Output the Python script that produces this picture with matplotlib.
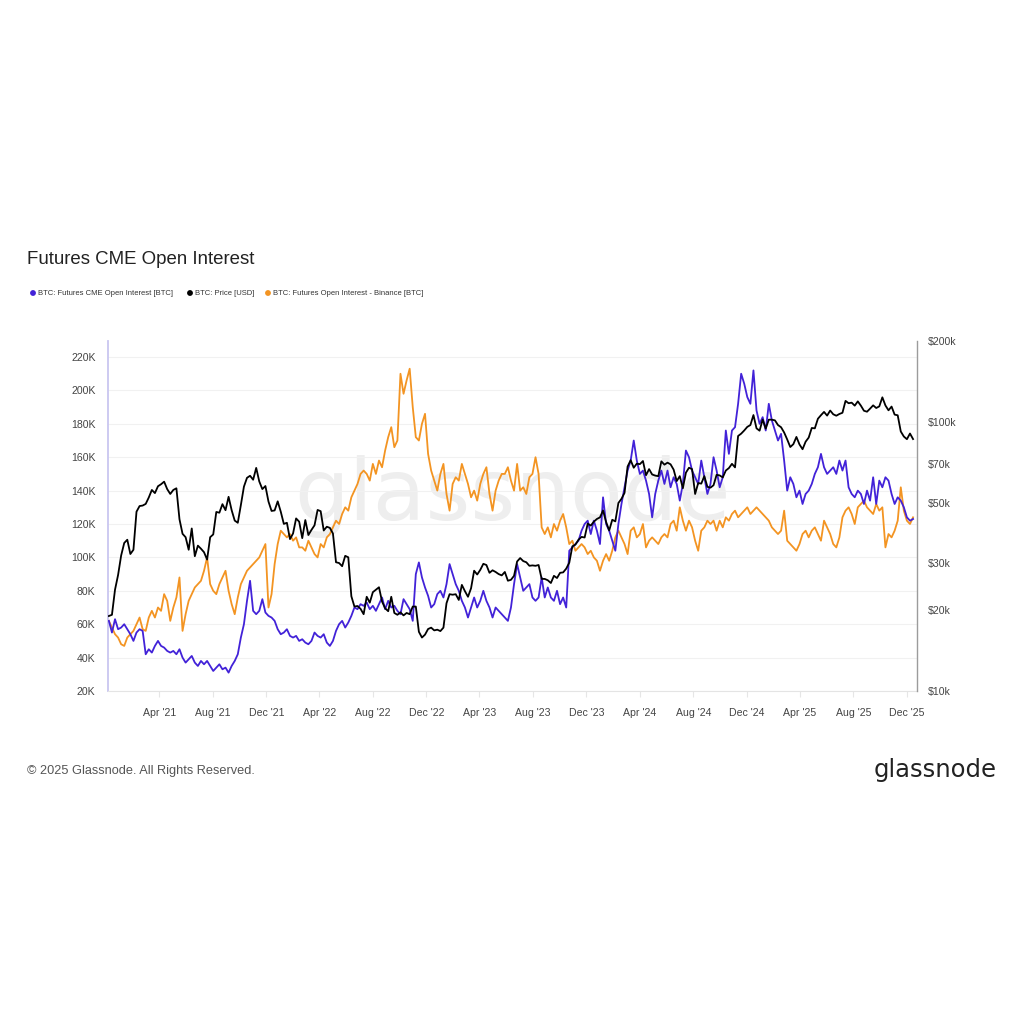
import matplotlib
matplotlib.use("Agg")
import matplotlib.pyplot as plt
import matplotlib.patches as mpatches
from matplotlib.ticker import FixedLocator, FuncFormatter, NullLocator
import pandas as pd
import numpy as np

# ---------------- data (weekly samples) ----------------
start_date = "2020-12-07"

cme_oi_k = [
    62, 55, 63, 57, 58, 60, 57, 54, 50, 55,
    57, 56, 42, 45, 43, 47, 50, 47, 46, 44,
    43, 44, 42, 45, 40, 37, 39, 41, 37, 35,
    38, 36, 38, 35, 32, 34, 36, 33, 34, 31,
    35, 38, 42, 52, 60, 74, 86, 68, 66, 68,
    75, 67, 65, 64, 62, 57, 54, 55, 57, 53,
    52, 53, 50, 51, 49, 48, 50, 55, 53, 52,
    54, 49, 47, 50, 56, 60, 62, 58, 61, 65,
    70, 69, 72, 71, 73, 69, 71, 68, 72, 76,
    69, 74, 70, 71, 68, 66, 75, 72, 69, 62,
    90, 97, 88, 82, 77, 70, 72, 78, 80, 76,
    84, 96, 90, 84, 80, 74, 70, 64, 70, 76,
    70, 74, 80, 74, 70, 64, 70, 68, 66, 64,
    62, 70, 84, 96, 88, 80, 82, 84, 76, 74,
    76, 88, 76, 82, 76, 74, 80, 72, 76, 70,
    104, 106, 108, 110, 116, 120, 122, 114, 122, 116,
    108, 136, 120, 116, 110, 104, 120, 132, 142, 152,
    158, 170, 158, 150, 152, 146, 138, 124, 138, 146,
    152, 144, 152, 142, 148, 144, 134, 144, 164, 160,
    152, 148, 144, 158, 148, 138, 144, 160, 152, 142,
    148, 176, 162, 176, 178, 192, 210, 204, 196, 192,
    212, 188, 180, 184, 176, 192, 182, 176, 170, 174,
    158, 140, 148, 144, 136, 140, 132, 138, 140, 144,
    150, 154, 162, 154, 150, 152, 154, 150, 158, 152,
    158, 142, 138, 136, 140, 138, 132, 140, 134, 148,
    132, 146, 142, 148, 146, 138, 132, 136, 134, 130,
    124, 122, 123,
]

binance_oi_k = [
    62, 58, 54, 52, 48, 47, 52, 54, 56, 60,
    64, 57, 56, 64, 68, 64, 70, 68, 78, 74,
    62, 70, 76, 88, 56, 66, 74, 78, 82, 84,
    86, 92, 100, 84, 80, 78, 84, 88, 92, 80,
    72, 66, 76, 84, 88, 92, 94, 96, 98, 100,
    104, 108, 70, 78, 96, 108, 116, 114, 112, 114,
    110, 112, 106, 106, 104, 110, 106, 102, 100, 108,
    106, 112, 114, 118, 122, 120, 126, 130, 128, 136,
    140, 144, 150, 152, 150, 146, 156, 150, 158, 154,
    164, 172, 178, 166, 170, 210, 198, 206, 213, 190,
    172, 170, 180, 186, 162, 152, 146, 140, 150, 156,
    138, 128, 144, 148, 146, 156, 150, 144, 136, 140,
    134, 144, 150, 154, 138, 128, 140, 146, 150, 150,
    154, 146, 140, 156, 140, 142, 138, 148, 150, 160,
    150, 118, 114, 118, 112, 120, 116, 122, 126, 118,
    108, 110, 104, 106, 108, 106, 102, 104, 100, 98,
    92, 98, 102, 98, 104, 112, 116, 112, 108, 102,
    116, 118, 112, 114, 120, 106, 110, 112, 110, 108,
    112, 114, 112, 120, 122, 116, 130, 122, 116, 122,
    118, 110, 104, 116, 118, 122, 120, 122, 116, 122,
    118, 124, 122, 126, 128, 124, 126, 128, 130, 126,
    128, 130, 128, 126, 124, 122, 118, 116, 114, 116,
    128, 110, 108, 106, 104, 108, 114, 116, 112, 116,
    118, 114, 110, 122, 118, 114, 108, 106, 112, 124,
    128, 130, 126, 120, 130, 132, 134, 130, 128, 126,
    132, 128, 130, 106, 114, 112, 116, 122, 142, 128,
    122, 120, 124,
]

price_usd_k = [
    19.0, 19.2, 23.8, 27.0, 31.9, 35.5, 36.5, 32.3, 33.5, 46.4,
    48.7, 48.9, 49.6, 52.4, 55.9, 54.4, 57.7, 58.7, 60.0, 56.3,
    54.0, 55.9, 56.7, 43.5, 38.4, 37.3, 33.5, 40.2, 31.7, 34.7,
    33.8, 32.8, 30.8, 37.3, 38.2, 46.3, 46.0, 49.5, 47.0, 52.7,
    47.0, 43.0, 42.2, 49.1, 57.5, 62.0, 63.1, 61.0, 67.5, 60.1,
    56.3, 57.8, 50.6, 46.7, 46.9, 50.7, 46.4, 41.8, 42.2, 36.7,
    38.5, 43.8, 42.6, 37.0, 43.2, 38.0, 39.7, 41.3, 47.1, 46.6,
    39.5, 40.8, 40.4, 38.5, 30.1, 29.9, 29.1, 31.8, 31.4, 22.5,
    20.6, 20.7, 20.2, 19.3, 22.4, 21.3, 23.3, 23.8, 24.3, 21.5,
    20.3, 19.8, 22.4, 19.5, 19.2, 19.6, 19.1, 19.5, 19.3, 20.6,
    20.6, 16.6, 15.8, 16.2, 17.0, 17.2, 16.8, 16.9, 16.7, 17.2,
    21.2, 22.9, 22.8, 22.9, 21.8, 24.8, 23.5, 22.4, 24.1, 28.0,
    27.1, 28.2, 29.7, 29.4, 27.5, 28.1, 27.7, 27.2, 26.9, 27.7,
    25.7, 25.9, 26.8, 30.3, 31.2, 30.4, 30.1, 29.2, 29.3, 29.2,
    29.4, 26.1, 26.1, 25.8, 25.2, 26.8, 26.3, 27.5, 27.6, 28.5,
    30.0, 34.5, 35.0, 36.5, 37.4, 37.2, 41.9, 41.2, 42.6, 43.6,
    44.2, 46.9, 42.5, 39.5, 43.3, 42.7, 50.0, 51.8, 54.5, 68.3,
    72.1, 67.6, 70.0, 69.7, 71.6, 63.4, 66.8, 63.8, 63.2, 62.9,
    71.4, 69.4, 70.6, 69.6, 66.5, 60.3, 62.9, 56.7, 64.8, 67.6,
    66.8, 54.0, 59.3, 59.0, 62.9, 57.4, 57.0, 58.2, 63.6, 63.3,
    62.2, 66.0, 67.4, 69.9, 67.8, 88.7, 90.5, 93.0, 95.9, 97.4,
    106.1, 94.7, 92.8, 102.1, 94.5, 102.0, 102.0, 101.4, 97.4, 95.6,
    91.4, 86.1, 80.7, 82.7, 88.0, 82.5, 79.2, 84.5, 87.5, 95.0,
    94.7, 102.8, 106.0, 109.0, 105.6, 110.3, 106.8, 105.5, 107.1, 108.2,
    119.8, 117.4, 118.0, 115.0, 119.3, 115.0, 110.1, 109.2, 112.1, 115.3,
    112.7, 114.3, 123.5, 115.2, 110.5, 114.1, 106.5, 105.9, 92.2, 88.3,
    86.3, 90.6, 86.4,
]

left_ticks_k = [20, 40, 60, 80, 100, 120, 140, 160, 180, 200, 220]
right_ticks = [10000, 20000, 30000, 50000, 70000, 100000, 200000]
right_tick_labels = ["$10k", "$20k", "$30k", "$50k", "$70k", "$100k", "$200k"]
x_tick_dates = ["2021-04-01", "2021-08-01", "2021-12-01", "2022-04-01", "2022-08-01",
                "2022-12-01", "2023-04-01", "2023-08-01", "2023-12-01", "2024-04-01",
                "2024-08-01", "2024-12-01", "2025-04-01", "2025-08-01", "2025-12-01"]

legend_labels = ["BTC: Futures CME Open Interest [BTC]", "BTC: Price [USD]",
                 "BTC: Futures Open Interest - Binance [BTC]"]

# ---------------- styling ----------------
C_BLUE = "#4222d8"
C_ORANGE = "#f39422"
C_BLACK = "#000000"
FONT = ["Liberation Sans", "DejaVu Sans"]
plt.rcParams["font.family"] = FONT

n = len(price_usd_k)
dates = pd.date_range(start_date, periods=n, freq="7D")

fig = plt.figure(figsize=(10.24, 10.24), dpi=100)
fig.patch.set_facecolor("white")
ax = fig.add_axes([108 / 1024, 1 - 691 / 1024, 809 / 1024, 350 / 1024])
ax2 = ax.twinx()

# watermark
ax.text(0.5, 0.555, "glassnode", transform=ax.transAxes, ha="center", va="center",
        fontsize=62, color="#eeeeee", family="DejaVu Sans", zorder=0)

LW = 1.3
ax.plot(dates[:len(binance_oi_k)], binance_oi_k, color=C_ORANGE, lw=LW, zorder=2)
ax.plot(dates[:len(cme_oi_k)], cme_oi_k, color=C_BLUE, lw=LW, zorder=3)
ax2.plot(dates, np.array(price_usd_k) * 1000, color=C_BLACK, lw=LW, zorder=3)

# x axis
ax.set_xlim(pd.Timestamp("2020-12-05"), pd.Timestamp("2025-12-24"))
xt = [pd.Timestamp(d) for d in x_tick_dates]
ax.set_xticks(xt)
ax.set_xticklabels([d.strftime("%b '%y") for d in xt])
ax.tick_params(axis="x", length=4, color="#e6e6e6", pad=8, labelsize=7.6, labelcolor="#444444")

# left axis
ax.set_ylim(20, 229.6)
ax.yaxis.set_major_locator(FixedLocator(left_ticks_k))
ax.yaxis.set_major_formatter(FuncFormatter(lambda v, p: f"{int(v)}K"))
ax.tick_params(axis="y", length=0, pad=9, labelsize=7.6, labelcolor="#444444")
ax.grid(axis="y", color="#f1f1f1", lw=0.8)
ax.set_axisbelow(True)

# right axis (log)
ax2.set_yscale("log")
ax2.set_ylim(10000, 200000)
ax2.yaxis.set_major_locator(FixedLocator(right_ticks))
ax2.yaxis.set_major_formatter(FuncFormatter(
    lambda v, p: right_tick_labels[right_ticks.index(int(round(v)))] if int(round(v)) in right_ticks else ""))
ax2.yaxis.set_minor_locator(NullLocator())
ax2.tick_params(axis="y", length=0, pad=8, labelsize=7.6, labelcolor="#444444")

for a in (ax, ax2):
    a.spines["top"].set_visible(False)
ax.spines["right"].set_visible(False)
ax.spines["left"].set_color("#c9c6f0")
ax.spines["left"].set_linewidth(1.3)
ax.spines["bottom"].set_color("#e4e4e4")
ax2.spines["left"].set_visible(False)
ax2.spines["bottom"].set_visible(False)
ax2.spines["right"].set_color("#9c9c9c")
ax2.spines["right"].set_linewidth(1.0)

# title
fig.text(27 / 1024, 1 - 259 / 1024, "Futures CME Open Interest", fontsize=13.4,
         color="#222222", ha="left", va="center")

# legend
leg_x = [33, 190, 268]
leg_c = [C_BLUE, C_BLACK, C_ORANGE]
for x, c, lab in zip(leg_x, leg_c, legend_labels):
    fig.patches.append(mpatches.Circle((x / 1024, 1 - 293 / 1024), 2.2 / 1024,
                                       transform=fig.transFigure, color=c))
    fig.text((x + 5) / 1024, 1 - 293.5 / 1024, lab, fontsize=5.5, color="#333333",
             ha="left", va="center")

# footer
fig.text(27 / 1024, 1 - 771 / 1024, "\u00a9 2025 Glassnode. All Rights Reserved.",
         fontsize=9.2, color="#555555", ha="left", va="center")
fig.text(997 / 1024, 1 - 770 / 1024, "glassnode", fontsize=17.5, color="#222222",
         ha="right", va="center", family="DejaVu Sans")

fig.savefig("out.png", dpi=100, facecolor="white")
